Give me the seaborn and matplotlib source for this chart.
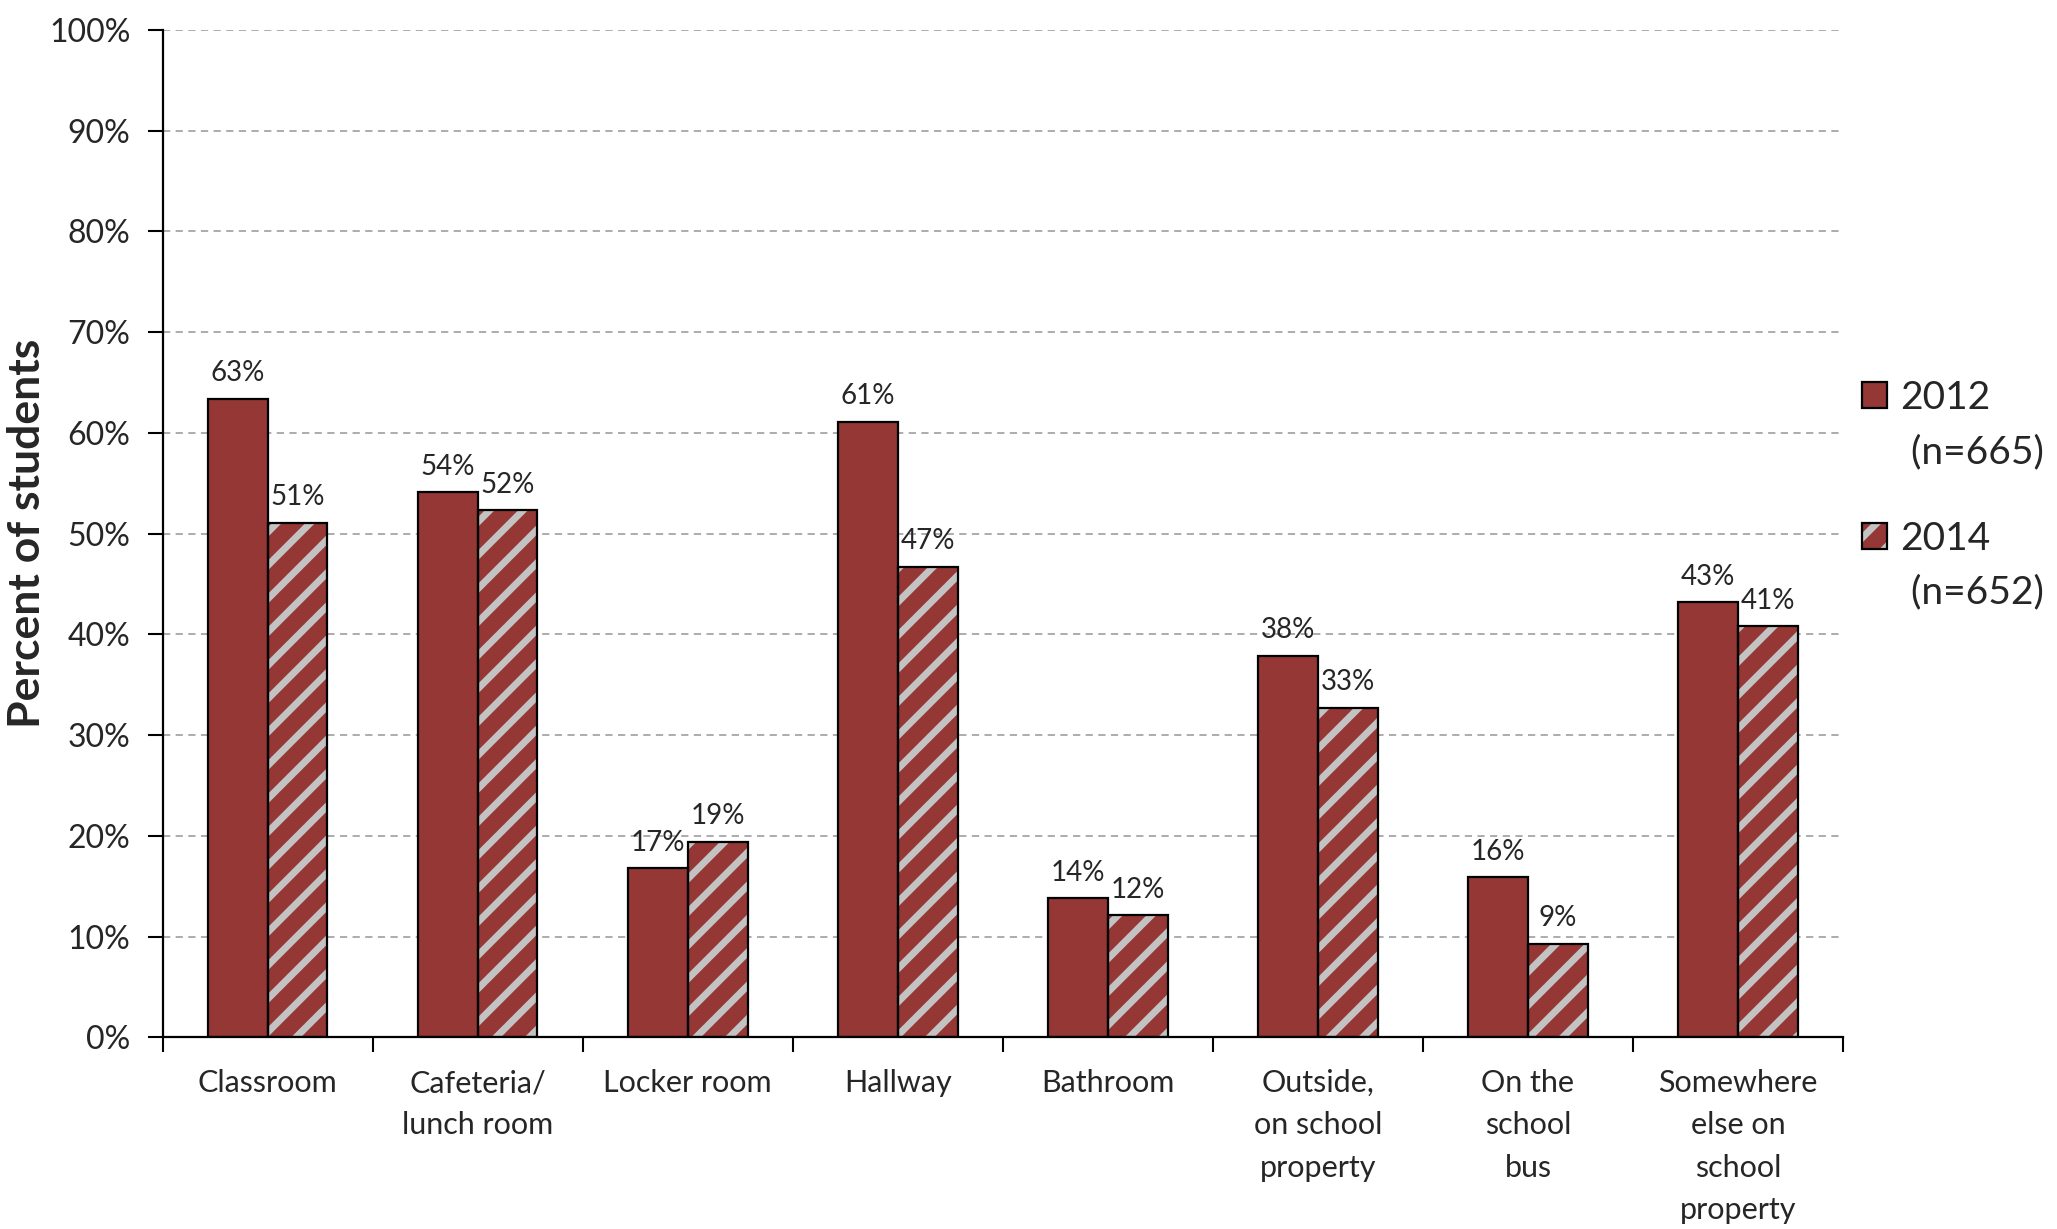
import pandas as pd
import numpy as np
import matplotlib.pyplot as plt
import seaborn as sns
from matplotlib.patches import Rectangle
from matplotlib.ticker import FixedLocator, PercentFormatter

# Where students reported being bullied, by survey year
locations = [
    "Classroom",
    "Cafeteria/\nlunch room",
    "Locker room",
    "Hallway",
    "Bathroom",
    "Outside,\non school\nproperty",
    "On the\nschool\nbus",
    "Somewhere\nelse on\nschool\nproperty",
]
pct_2012 = [63.4, 54.1, 16.8, 61.1, 13.8, 37.9, 15.9, 43.2]
pct_2014 = [51.1, 52.3, 19.4, 46.7, 12.1, 32.7, 9.3, 40.8]
years = ["2012", "2014"]
legend_labels = ["2012\n (n=665)", "2014\n (n=652)"]

red = "#953735"
stripe = "#c3c3c3"

sns.set_theme(style="white")
plt.rcParams["font.family"] = ["Lato", "DejaVu Sans"]
plt.rcParams["hatch.linewidth"] = 5


class TopSwatch:
    """Legend swatch with black outline, lifted up to sit beside the first text line."""

    def __init__(self, hatch=None, lift=22):
        self.hatch = hatch
        self.lift = lift

    def legend_artist(self, legend, orig_handle, fontsize, handlebox):
        x0, y0 = -handlebox.xdescent, -handlebox.ydescent + self.lift
        w, h = handlebox.width, handlebox.height
        fill = Rectangle((x0, y0), w, h, facecolor=red,
                         edgecolor=stripe if self.hatch else red,
                         hatch=self.hatch, linewidth=0)
        edge = Rectangle((x0, y0), w, h, fill=False, edgecolor="black", linewidth=1.6)
        handlebox.add_artist(fill)
        handlebox.add_artist(edge)
        return edge


# Long format table for seaborn
df = pd.DataFrame(
    {
        "location": locations * 2,
        "year": [years[0]] * len(locations) + [years[1]] * len(locations),
        "pct": pct_2012 + pct_2014,
    }
)

fig, ax = plt.subplots(figsize=(20.57, 12.29), dpi=100)
fig.subplots_adjust(left=0.079, right=0.896, top=0.9756, bottom=0.156)

# Filled bars (hatch drawn in light grey on the 2014 series)
sns.barplot(
    data=df, x="location", y="pct", hue="year", palette=[red, red],
    width=0.57, linewidth=0, saturation=1, legend=False, ax=ax, zorder=2,
)
for patch in ax.containers[1]:
    patch.set_hatch("/")
    patch.set_edgecolor(stripe)

# Black outlines on top
sns.barplot(
    data=df, x="location", y="pct", hue="year", palette=["black", "black"],
    width=0.57, linewidth=1.6, fill=False, legend=False, ax=ax, zorder=3,
)

# Value labels
for cont in ax.containers[:2]:
    ax.bar_label(cont, fmt="{:.0f}%", padding=9, fontsize=20)

ax.set_ylim(0, 100)
ax.set_xlim(-0.5, len(locations) - 0.5)
ax.yaxis.set_major_locator(FixedLocator(np.arange(0, 101, 10)))
ax.yaxis.set_major_formatter(PercentFormatter(decimals=0))
ax.yaxis.grid(True, color="#a6a6a6", linestyle=(0, (4, 3)), linewidth=1.3, zorder=0)
ax.set_axisbelow(True)

# Category boundary ticks on the x axis
ax.xaxis.set_minor_locator(FixedLocator(np.arange(-0.5, len(locations), 1)))
ax.tick_params(axis="x", which="major", length=0, pad=23, labelsize=22)
ax.tick_params(axis="x", which="minor", length=11, width=1.5, color="black", direction="out", bottom=True)
ax.tick_params(axis="y", length=11, width=1.5, color="black", direction="out", left=True, pad=12, labelsize=23)
for lab in ax.get_xticklabels():
    lab.set_linespacing(1.62)

sns.despine(ax=ax)
for side in ["left", "bottom"]:
    ax.spines[side].set_color("black")
    ax.spines[side].set_linewidth(1.6)

ax.set_xlabel("")
ax.set_ylabel("Percent of students", fontsize=32, fontweight="bold")
ax.yaxis.set_label_coords(-0.069, 0.5)

# Legend beside the plot
leg = fig.legend(
    [0, 1], legend_labels,
    handler_map={0: TopSwatch(), 1: TopSwatch(hatch="/")},
    loc="center left", bbox_to_anchor=(0.888, 0.597), frameon=False,
    fontsize=28, handlelength=0.65, handleheight=0.65, handletextpad=0.35,
    labelspacing=1.3,
)
for txt in leg.get_texts():
    txt.set_linespacing(1.62)

plt.savefig("out.png", dpi=100)
